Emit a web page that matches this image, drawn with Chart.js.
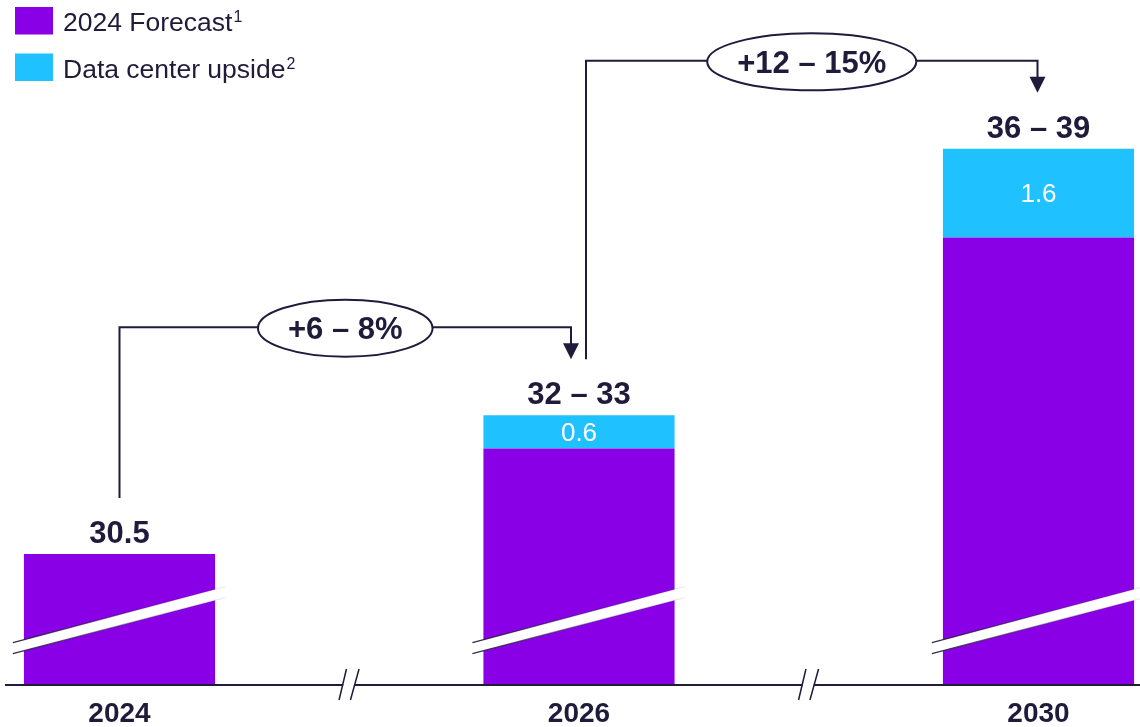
<!DOCTYPE html>
<html>
<head>
<meta charset="utf-8">
<title>Forecast with data center upside</title>
<script src="https://cdn.jsdelivr.net/npm/chart.js@4.4.1/dist/chart.umd.min.js"></script>
<style>
    html, body { margin: 0; padding: 0; background: #ffffff; }
    #chart { display: block; }
</style>
</head>
<body>
<canvas id="chart" width="1140" height="727"></canvas>
<script>
// Chart data
const years = ['2024', '2026', '2030'];
const forecast = [30.5, 32.4, 36.2];
const upside = [null, 0.6, 1.6];
const totalLabels = ['30.5', '32 – 33', '36 – 39'];
const growthLabels = ['+6 – 8%', '+12 – 15%'];
const seriesNames = ['2024 Forecast', 'Data center upside'];
const seriesNotes = ['1', '2'];

// Broken value axis (does not start at zero)
const axisMin = 28.14;
const axisMax = 40.3;

const PURPLE = '#8a00e6';
const CYAN = '#20c1ff';
const INK = '#1f1b3b';
const FONT = "'Liberation Sans', Arial, Helvetica, sans-serif";

function font(size, weight) {
    return (weight || 'normal') + ' ' + size + 'px ' + FONT;
}

// White slanted band that marks the cut in each bar
function drawBarBreak(ctx, bar, base) {
    const half = bar.width / 2;
    const x0 = bar.x - half - 11;
    const x1 = bar.x + half + 10;
    const slope = 0.264;
    const cy = base - 65;
    const t = 5.5;
    const yAt = x => cy - slope * (x - bar.x);

    ctx.fillStyle = '#ffffff';
    ctx.beginPath();
    ctx.moveTo(x0, yAt(x0) - t);
    ctx.lineTo(x1, yAt(x1) - t);
    ctx.lineTo(x1, yAt(x1) + t);
    ctx.lineTo(x0, yAt(x0) + t);
    ctx.closePath();
    ctx.fill();

    const grad = ctx.createLinearGradient(x0, 0, x1, 0);
    grad.addColorStop(0, 'rgba(31,27,59,0.95)');
    grad.addColorStop(0.55, 'rgba(31,27,59,0.35)');
    grad.addColorStop(1, 'rgba(31,27,59,0.08)');
    ctx.strokeStyle = grad;
    ctx.lineWidth = 1.2;
    [-t, t].forEach(function(off) {
        ctx.beginPath();
        ctx.moveTo(x0, yAt(x0) + off);
        ctx.lineTo(x1, yAt(x1) + off);
        ctx.stroke();
    });
}

// "//" mark on the category axis
function drawAxisBreak(ctx, m, base) {
    ctx.fillStyle = '#ffffff';
    ctx.fillRect(m - 6, base - 2, 11, 4);
    ctx.strokeStyle = INK;
    ctx.lineWidth = 1.5;
    ctx.beginPath();
    ctx.moveTo(m - 10.2, base + 15);
    ctx.lineTo(m - 2.8, base - 16);
    ctx.moveTo(m + 1.2, base + 15);
    ctx.lineTo(m + 9.8, base - 16);
    ctx.stroke();
}

// Elbow arrow between two bars with the growth ellipse
function drawConnector(ctx, sx, sy, ex, ey, levelY, label) {
    ctx.strokeStyle = INK;
    ctx.fillStyle = INK;
    ctx.lineWidth = 2;
    ctx.beginPath();
    ctx.moveTo(sx, sy);
    ctx.lineTo(sx, levelY);
    ctx.lineTo(ex, levelY);
    ctx.lineTo(ex, ey - 14);
    ctx.stroke();

    ctx.beginPath();
    ctx.moveTo(ex - 8, ey - 16);
    ctx.lineTo(ex + 8, ey - 16);
    ctx.lineTo(ex, ey);
    ctx.closePath();
    ctx.fill();

    ctx.font = font(31, 'bold');
    const w = ctx.measureText(label).width;
    const cx = (sx + ex) / 2;
    const cy = levelY + 1;
    ctx.beginPath();
    ctx.ellipse(cx, cy, w / 2 + 30, 28.5, 0, 0, Math.PI * 2);
    ctx.fillStyle = '#ffffff';
    ctx.fill();
    ctx.stroke();

    ctx.fillStyle = INK;
    ctx.textAlign = 'center';
    ctx.textBaseline = 'alphabetic';
    ctx.fillText(label, cx, cy + 11);
}

const decorPlugin = {
    id: 'decor',
    afterDatasetsDraw(chart) {
        const ctx = chart.ctx;
        const base = chart.scales.y.getPixelForValue(axisMin);
        const lower = chart.getDatasetMeta(0).data;
        const upper = chart.getDatasetMeta(1).data;
        const tops = lower.map((bar, i) => upside[i] ? upper[i].y : bar.y);

        ctx.save();

        lower.forEach(bar => drawBarBreak(ctx, bar, base));

        // Baseline
        ctx.strokeStyle = INK;
        ctx.lineWidth = 2;
        ctx.beginPath();
        ctx.moveTo(5, base);
        ctx.lineTo(chart.width, base);
        ctx.stroke();

        for (let i = 0; i < lower.length - 1; i++) {
            drawAxisBreak(ctx, (lower[i].x + lower[i + 1].x) / 2, base);
        }

        // Upside values inside the cyan segments
        ctx.fillStyle = '#ffffff';
        ctx.font = font(26);
        ctx.textAlign = 'center';
        ctx.textBaseline = 'alphabetic';
        upside.forEach(function(v, i) {
            if (!v) return;
            const mid = (upper[i].y + upper[i].base) / 2;
            ctx.fillText(v.toFixed(1), upper[i].x, mid + 9.3);
        });

        // Totals above the bars
        ctx.fillStyle = INK;
        ctx.font = font(31, 'bold');
        totalLabels.forEach(function(txt, i) {
            ctx.fillText(txt, lower[i].x, tops[i] - 11);
        });

        // Growth connectors
        growthLabels.forEach(function(txt, i) {
            const sx = lower[i].x + (i > 0 ? 7 : 0);
            const ex = lower[i + 1].x - (i + 1 < growthLabels.length ? 8 : 1);
            drawConnector(ctx, sx, tops[i] - 56, ex, tops[i + 1] - 56, tops[i + 1] - 88, txt);
        });

        // Legend with footnote marks
        ctx.textAlign = 'left';
        chart.data.datasets.forEach(function(ds, i) {
            const y = 7 + i * 46.5;
            ctx.fillStyle = ds.backgroundColor;
            ctx.fillRect(15, y, 38, 27.5);
            ctx.fillStyle = INK;
            ctx.font = font(26.5);
            const baseLine = y + 24;
            ctx.fillText(ds.label, 63, baseLine);
            const w = ctx.measureText(ds.label).width;
            ctx.font = font(16);
            ctx.fillText(seriesNotes[i], 63 + w + 1, baseLine - 9);
        });

        ctx.restore();
    }
};

// Bars may spill past the sides of the plot area but stop at the baseline
const barClip = { left: false, right: false, top: false, bottom: 0 };

const chart = new Chart(document.getElementById('chart'), {
    type: 'bar',
    data: {
        labels: years,
        datasets: [{
            label: seriesNames[0],
            data: forecast,
            backgroundColor: PURPLE,
            borderWidth: 0,
            clip: barClip
        }, {
            label: seriesNames[1],
            data: upside,
            backgroundColor: CYAN,
            borderWidth: 0,
            clip: barClip
        }]
    },
    options: {
        responsive: false,
        animation: false,
        devicePixelRatio: 1,
        categoryPercentage: 1,
        barPercentage: 0.416,
        layout: {
            padding: { left: 119.5, right: 101.5, top: 10, bottom: 0 }
        },
        plugins: {
            legend: { display: false },
            tooltip: { enabled: false }
        },
        scales: {
            x: {
                stacked: true,
                offset: false,
                grid: { display: false, drawTicks: false },
                border: { display: false },
                ticks: {
                    color: INK,
                    font: { family: FONT, size: 28, weight: 'bold' },
                    padding: 12.5,
                    maxRotation: 0
                },
                afterFit: function(scale) {
                    scale.height = 42;
                }
            },
            y: {
                stacked: true,
                display: false,
                min: axisMin,
                max: axisMax
            }
        }
    },
    plugins: [decorPlugin]
});
</script>
</body>
</html>
